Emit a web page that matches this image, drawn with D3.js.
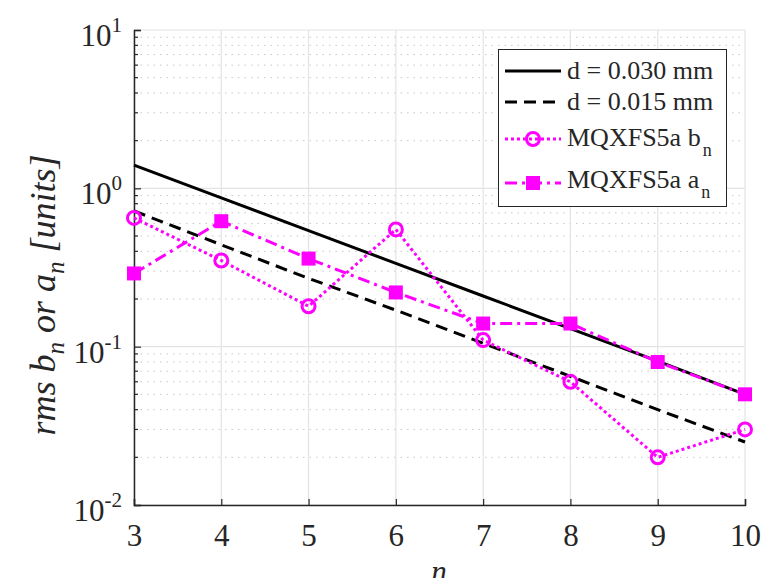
<!DOCTYPE html>
<html>
<head>
<meta charset="utf-8">
<script src="https://cdn.jsdelivr.net/npm/d3@7"></script>
<style>
  @font-face { font-family: "ChartSerif"; font-style: normal; src: local("Liberation Serif"), local("LiberationSerif"), local("Tinos"); }
  @font-face { font-family: "ChartSerif"; font-style: italic; src: local("Liberation Serif Italic"), local("LiberationSerif-Italic"), local("Tinos Italic"); }
</style>
</head>
<body style="margin:0">
<svg id="chart" width="764" height="578" style="display:block"></svg>
<script>
// harmonic order
const orders = [3, 4, 5, 6, 7, 8, 9, 10];
// expected rms for two positioning errors
const d030 = [1.40, 0.87, 0.54, 0.336, 0.209, 0.13, 0.081, 0.05];
const d015 = [0.72, 0.44, 0.27, 0.17, 0.105, 0.065, 0.04, 0.025];
// measured rms for MQXFS5a
const bn = [0.65, 0.35, 0.18, 0.55, 0.11, 0.06, 0.02, 0.03];
const an = [0.29, 0.62, 0.36, 0.22, 0.14, 0.14, 0.08, 0.05];
const yTickExp = [-2, -1, 0, 1];

const FONT = "'Liberation Serif', ChartSerif, Tinos, 'Times New Roman', FreeSerif, 'Nimbus Roman', serif";
const svg = d3.select("#chart");
const margin = {top: 30, right: 19, bottom: 73, left: 134},
    width = 764 - margin.left - margin.right,
    height = 578 - margin.top - margin.bottom;
const g = svg.append("g").attr("transform", "translate(" + margin.left + "," + margin.top + ")");

const x = d3.scaleLinear().domain([3, 10]).range([0, width]);
const y = d3.scaleLog().domain([0.01, 10]).range([height, 0]);

// minor horizontal grid (dotted)
const minors = [];
yTickExp.slice(0, 3).forEach(e => {
    for (let k = 2; k <= 9; k++) minors.push(k * Math.pow(10, e));
});
g.append("g").selectAll("line").data(minors).enter().append("line")
    .attr("x1", 0).attr("x2", width)
    .attr("y1", d => y(d)).attr("y2", d => y(d))
    .attr("stroke", "#c8c8c8").attr("stroke-width", 1)
    .attr("stroke-dasharray", "1.5,5");

// major grid
g.append("g").selectAll("line").data(yTickExp).enter().append("line")
    .attr("x1", 0).attr("x2", width)
    .attr("y1", d => y(Math.pow(10, d))).attr("y2", d => y(Math.pow(10, d)))
    .attr("stroke", "#e3e3e3").attr("stroke-width", 1.2);
g.append("g").selectAll("line").data(orders).enter().append("line")
    .attr("x1", d => x(d)).attr("x2", d => x(d))
    .attr("y1", 0).attr("y2", height)
    .attr("stroke", "#e3e3e3").attr("stroke-width", 1.2);

// axes
const xAxis = g.append("g")
    .attr("transform", "translate(0," + height + ")")
    .call(d3.axisBottom(x).tickValues(orders).tickSize(-6).tickPadding(19).tickFormat(d3.format("d")));
xAxis.attr("font-size", 31);
xAxis.selectAll("text").attr("dy", "0.71em").attr("fill", "#262626");

const yAxis = g.append("g")
    .call(d3.axisLeft(y).tickValues(yTickExp.map(e => Math.pow(10, e))).tickSize(-7).tickFormat(""));
yAxis.selectAll("text").remove();
// minor y ticks
g.append("g").selectAll("line").data(minors).enter().append("line")
    .attr("x1", 0).attr("x2", 4)
    .attr("y1", d => y(d)).attr("y2", d => y(d))
    .attr("stroke", "#262626").attr("stroke-width", 1.2);

[xAxis, yAxis].forEach(a => {
    a.select(".domain").attr("stroke", "#262626").attr("stroke-width", 1.5);
    a.selectAll(".tick line").attr("stroke", "#262626").attr("stroke-width", 1.2);
});

// y tick labels 10^e
const yl = g.append("g").selectAll("text").data(yTickExp).enter().append("text")
    .attr("x", -12).attr("y", d => y(Math.pow(10, d)) + 16)
    .attr("text-anchor", "end").attr("font-size", 31).attr("fill", "#262626");
yl.append("tspan").text("10");
yl.append("tspan").attr("dy", -14).attr("font-size", 21).text(d => String(d));

const line = d3.line().x((d, i) => x(orders[i])).y(d => y(d));

g.append("path").datum(d030).attr("d", line)
    .attr("fill", "none").attr("stroke", "#000").attr("stroke-width", 3);
g.append("path").datum(d015).attr("d", line)
    .attr("fill", "none").attr("stroke", "#000").attr("stroke-width", 3)
    .attr("stroke-dasharray", "12,7");

const mag = "#ff00ff";
g.append("path").datum(bn).attr("d", line)
    .attr("fill", "none").attr("stroke", mag).attr("stroke-width", 3)
    .attr("stroke-dasharray", "3,3");
g.append("g").selectAll("circle").data(bn).enter().append("circle")
    .attr("cx", (d, i) => x(orders[i])).attr("cy", d => y(d)).attr("r", 6.5)
    .attr("fill", "none").attr("stroke", mag).attr("stroke-width", 3);

g.append("path").datum(an).attr("d", line)
    .attr("fill", "none").attr("stroke", mag).attr("stroke-width", 3)
    .attr("stroke-dasharray", "12,5,3,5");
g.append("g").selectAll("rect").data(an).enter().append("rect")
    .attr("x", (d, i) => x(orders[i]) - 7).attr("y", d => y(d) - 7)
    .attr("width", 14).attr("height", 14).attr("fill", mag);

// axis labels
svg.append("text").attr("x", 439).attr("y", 582).attr("text-anchor", "middle")
    .attr("font-size", 31).attr("font-style", "italic").attr("fill", "#262626").text("n");

const ylab = svg.append("text")
    .attr("transform", "translate(55,295) rotate(-90)")
    .attr("text-anchor", "middle").attr("font-size", 36).attr("font-style", "italic")
    .attr("fill", "#262626");
ylab.append("tspan").text("rms b");
ylab.append("tspan").attr("dy", 9).attr("font-size", 25).text("n");
ylab.append("tspan").attr("dy", -9).text(" or a");
ylab.append("tspan").attr("dy", 9).attr("font-size", 25).text("n");
ylab.append("tspan").attr("dy", -9).text("  [units]");

// legend
const legend = svg.append("g");
legend.append("rect").attr("x", 498.5).attr("y", 49.5).attr("width", 228).attr("height", 157)
    .attr("fill", "#fff").attr("stroke", "#262626").attr("stroke-width", 1);
const entries = [
    {label: "d = 0.030 mm", sub: null, ly: 71, ty: 79, dash: null, color: "#000", marker: null},
    {label: "d = 0.015 mm", sub: null, ly: 102, ty: 110, dash: "12,7", color: "#000", marker: null},
    {label: "MQXFS5a b", sub: "n", ly: 139, ty: 146, dash: "3,3", color: mag, marker: "circle"},
    {label: "MQXFS5a a", sub: "n", ly: 183, ty: 188, dash: "12,5,3,5", color: mag, marker: "square"}
];
entries.forEach(e => {
    const ln = legend.append("line").attr("x1", 505).attr("x2", 561).attr("y1", e.ly).attr("y2", e.ly)
        .attr("stroke", e.color).attr("stroke-width", 3);
    if (e.dash) ln.attr("stroke-dasharray", e.dash);
    if (e.marker === "circle") {
        legend.append("circle").attr("cx", 533).attr("cy", e.ly).attr("r", 6.5)
            .attr("fill", "none").attr("stroke", e.color).attr("stroke-width", 3);
    } else if (e.marker === "square") {
        legend.append("rect").attr("x", 526).attr("y", e.ly - 7).attr("width", 14).attr("height", 14)
            .attr("fill", e.color);
    }
    const t = legend.append("text").attr("x", 567).attr("y", e.ty).attr("font-size", 26).attr("fill", "#262626");
    t.append("tspan").text(e.label);
    if (e.sub) t.append("tspan").attr("dy", 10).attr("dx", 2).attr("font-size", 18).text(e.sub);
});

// font on every text and tspan, overriding the axis default
svg.selectAll("text, tspan").style("font-family", FONT);
xAxis.attr("font-family", null);
</script>
</body>
</html>
